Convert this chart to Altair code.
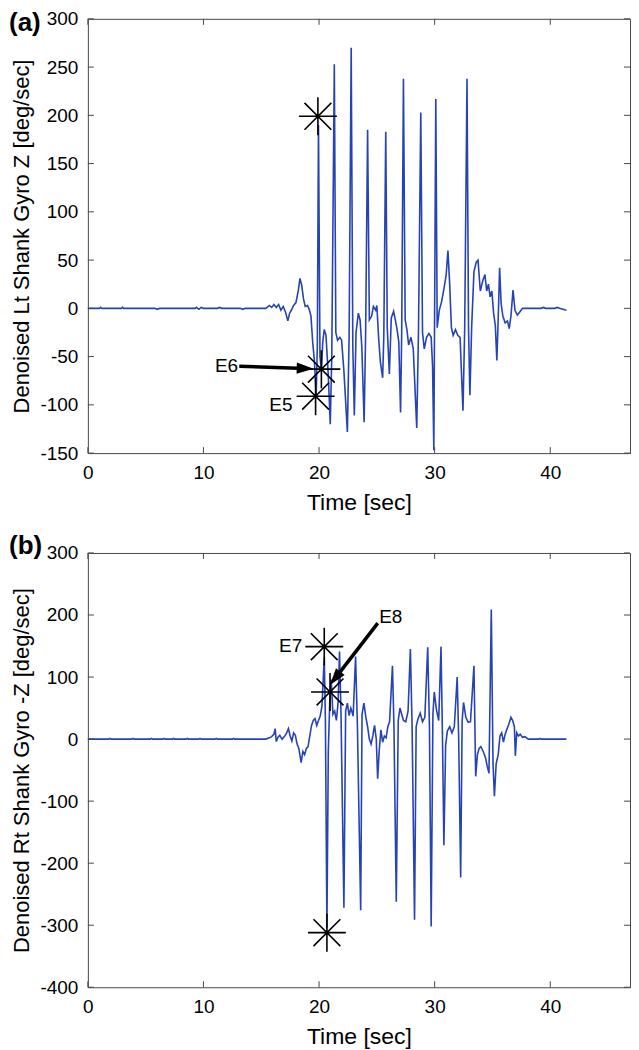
import altair as alt
import pandas as pd

FONT = "Liberation Sans"
LINE_COLOR = "#2743b3"
BOX = "#474747"

signal_a = [
    (0, 0), (1.0, 0), (1.1, 1), (1.2, 0), (2.9, 0), (3.0, 1), (3.1, 0), (5.8, 0), (6.0, -1), (6.2, 0),
    (9.3, 0), (9.4, 1), (9.6, -1), (9.8, 1), (10.0, 0), (11.2, 0), (11.4, 1), (11.6, 0), (13.2, 0),
    (13.4, -1), (13.6, 0), (15.4, 0), (15.7, 3), (15.9, 1), (16.1, 4), (16.3, 1), (16.5, 4), (16.7, -2),
    (16.9, 2), (17.1, -4), (17.3, -13), (17.45, -5), (17.6, -2), (17.8, 3), (18.0, 6), (18.2, 18),
    (18.35, 31), (18.5, 24), (18.65, 10), (18.8, 2), (19.0, 3), (19.15, -1), (19.3, -8), (19.45, -35),
    (19.6, -55), (19.75, -90), (19.85, -40), (19.95, 190), (20.08, -50), (20.2, -64), (20.32, -35),
    (20.45, -22), (20.6, -28), (20.8, -70), (20.97, -120), (21.1, -50), (21.32, 253), (21.45, -25),
    (21.6, -33), (21.8, -30), (21.95, -33), (22.15, -65), (22.45, -128), (22.6, -30), (22.78, 270),
    (22.92, -40), (23.05, -111), (23.2, -25), (23.4, -5), (23.55, -12), (23.7, -40), (23.9, -118),
    (24.03, -25), (24.2, 185), (24.35, -12), (24.55, -8), (24.7, 2), (24.9, -2), (25.0, 3), (25.15, -30),
    (25.3, -55), (25.5, -72), (25.6, -30), (25.77, 183), (25.9, -20), (26.08, -68), (26.25, -10),
    (26.45, -3), (26.6, -12), (26.75, -22), (26.9, -35), (27.05, -108), (27.15, -25), (27.3, 238),
    (27.45, -12), (27.6, -22), (27.75, -38), (27.95, -30), (28.15, -42), (28.45, -124), (28.6, -25),
    (28.8, 203), (28.95, -25), (29.1, -42), (29.3, -30), (29.5, -26), (29.7, -30), (29.82, -60),
    (29.93, -147), (30.1, 217), (30.22, -20), (30.4, -2), (30.6, 7), (30.8, 20), (31.0, 35), (31.15, 60),
    (31.3, 25), (31.45, -20), (31.6, -28), (31.8, -22), (32.0, -28), (32.2, -30), (32.45, -106),
    (32.6, -20), (32.8, 238), (32.93, -20), (33.05, -90), (33.2, -20), (33.4, 38), (33.6, 48),
    (33.75, 50), (33.95, 18), (34.15, 28), (34.35, 35), (34.5, 18), (34.65, 25), (34.8, 12), (34.95, 18),
    (35.1, -5), (35.25, -18), (35.38, -54), (35.5, -10), (35.62, 42), (35.75, 5), (35.9, -8), (36.1, -15),
    (36.3, -13), (36.45, -21), (36.6, -8), (36.78, 19), (36.95, -2), (37.15, -7), (37.35, -4), (37.6, 0),
    (38.0, 0), (39.2, 0), (39.4, 1), (39.6, 0), (40.4, 0), (40.6, 1), (40.8, 0), (41.4, -2),
]

signal_b = [
    (0, 0), (1.8, 0), (1.9, 1), (2.0, 0), (3.8, 0), (3.9, 1), (4.0, 0), (5.4, 0), (5.5, 1), (5.6, 0),
    (6.5, 0), (6.6, 1), (6.7, 0), (7.3, 0), (7.4, 1), (7.5, 0), (8.5, 0), (8.6, 1), (8.7, 0), (9.6, 0),
    (9.7, 1), (9.8, 0), (11.0, 0), (11.1, 1), (11.2, 0), (12.5, 0), (12.6, 1), (12.7, 0), (15.4, 0),
    (15.7, 2), (15.9, 4), (16.1, 8), (16.2, 17), (16.3, -4), (16.45, 3), (16.6, 6), (16.8, 0), (17.0, 4),
    (17.2, 10), (17.35, 17), (17.5, 5), (17.65, -3), (17.8, 10), (17.95, 6), (18.1, -8), (18.25, -15),
    (18.45, -38), (18.6, -20), (18.75, -25), (18.9, -15), (19.05, -12), (19.2, 5), (19.35, 22), (19.5, 30),
    (19.65, 33), (19.8, 22), (19.95, 30), (20.1, 37), (20.25, 53), (20.45, 132), (20.55, 30),
    (20.68, -305), (20.8, -20), (20.95, 76), (21.05, 96), (21.2, 40), (21.35, 45), (21.5, 30), (21.65, 60),
    (21.77, 141), (21.9, 40), (22.15, -272), (22.3, 45), (22.45, 58), (22.6, 38), (22.75, 50), (22.95, 37),
    (23.16, 133), (23.32, 20), (23.6, -276), (23.72, 40), (23.88, 58), (24.05, 35), (24.2, 20), (24.35, 0),
    (24.5, -8), (24.65, 5), (24.8, 22), (24.95, 0), (25.07, -64), (25.2, -20), (25.35, 15), (25.5, -5),
    (25.65, 5), (25.8, 2), (25.95, 20), (26.1, 28), (26.35, 118), (26.48, 20), (26.68, -262), (26.85, 30),
    (27.0, 50), (27.15, 40), (27.3, 30), (27.5, 28), (27.7, 45), (27.9, 145), (28.05, 20), (28.26, -291),
    (28.4, 20), (28.55, 32), (28.75, 42), (28.95, 28), (29.15, 35), (29.4, 148), (29.55, 20),
    (29.7, -302), (29.85, 40), (29.97, 76), (30.15, 48), (30.35, 30), (30.55, 149), (30.68, 0),
    (30.8, -171), (30.95, -10), (31.1, 13), (31.3, 20), (31.5, 10), (31.7, 20), (31.95, 100), (32.08, 0),
    (32.25, -223), (32.38, 30), (32.5, 59), (32.7, 35), (32.9, 27), (33.1, 28), (33.4, 118), (33.55, -60),
    (33.7, -25), (33.85, -15), (34.0, -12), (34.2, -20), (34.4, -30), (34.55, -44), (34.7, -55),
    (34.9, 209), (35.05, -40), (35.17, -92), (35.32, -40), (35.5, -25), (35.65, 5), (35.8, 10),
    (35.95, -5), (36.1, 8), (36.25, 16), (36.4, 23), (36.6, 35), (36.75, 30), (36.9, 20), (36.98, -27),
    (37.1, 10), (37.25, 5), (37.4, 8), (37.6, 3), (37.8, 4), (38.1, 0), (39.0, 0), (39.1, 1), (39.2, 0),
    (41.4, 0),
]

x_ticks = [0, 10, 20, 30, 40]
y_ticks_a = [-150, -100, -50, 0, 50, 100, 150, 200, 250, 300]
y_ticks_b = [-400, -300, -200, -100, 0, 100, 200, 300]

stars_a = [(19.9, 199), (20.2, -63), (19.7, -91)]
stars_b = [(20.45, 149), (20.95, 76), (20.68, -312)]

labels_a = [("E6", 13.0, -60, "right"), ("E5", 17.7, -100, "right")]
labels_b = [("E7", 18.55, 150, "right"), ("E8", 25.2, 197, "left")]

arrow_a = {"x1": 13.1, "y1": -60, "x2": 18.8, "y2": -62.2, "angle": 1.7}
arrow_b = {"x1": 25.08, "y1": 187, "x2": 21.39, "y2": 97.8, "angle": 128}

W, H = 543, 435
X_MAX = 46.9
TICK = 6
LEFT = 79
STAR = "M-1,0L1,0M0,-1L0,1M-0.7071,-0.7071L0.7071,0.7071M-0.7071,0.7071L0.7071,-0.7071"
HEAD = "M1,0L-1,-0.65L-1,0.65Z"


def panel(sig, yticks, ydom, ytitle, stars, labels, arrow, tag, tag_y):
    xs = alt.Scale(domain=[0, X_MAX], nice=False, zero=False)
    ys = alt.Scale(domain=ydom, nice=False, zero=False)
    df = pd.DataFrame(sig, columns=["t", "v"])
    common = dict(ticks=False, domain=False, grid=False, labelFontSize=19,
                  labelPadding=10, titleFontWeight="normal",
                  labelFont=FONT, titleFont=FONT, labelColor="black",
                  titleColor="black", labelExpr="replace(datum.label, '\u2212', '-')")
    line = alt.Chart(df).mark_line(color=LINE_COLOR, strokeWidth=1.6).encode(
        x=alt.X("t:Q", scale=xs, title="Time [sec]",
                axis=alt.Axis(values=x_ticks, labelFlush=False, titlePadding=9,
                              titleFontSize=23, **common)),
        y=alt.Y("v:Q", scale=ys, title=ytitle,
                axis=alt.Axis(values=yticks, titleX=-(LEFT - 3), titleY=H / 2, titleAngle=270,
                              titleBaseline="top", titleAlign="center", titleFontSize=22,
                              **common)),
    )
    sdf = pd.DataFrame(stars, columns=["t", "v"])
    star = alt.Chart(sdf).mark_point(shape=STAR, size=1444, filled=False, color="black",
                                     strokeWidth=1.6, opacity=1).encode(x="t:Q", y="v:Q")
    adf = pd.DataFrame([arrow])
    shaft = alt.Chart(adf).mark_rule(color="black", strokeWidth=3.5).encode(
        x="x1:Q", y="y1:Q", x2="x2:Q", y2="y2:Q")
    head = alt.Chart(adf).mark_point(shape=HEAD, size=289, filled=True, color="black",
                                     opacity=1, angle=arrow["angle"]).encode(x="x2:Q", y="y2:Q")
    layers = [line, star, shaft, head]
    for txt, tx, ty, al in labels:
        ldf = pd.DataFrame({"t": [tx], "v": [ty], "txt": [txt]})
        layers.append(alt.Chart(ldf).mark_text(font=FONT, fontSize=19, align=al,
                                               baseline="middle", color="black").encode(
            x="t:Q", y="v:Q", text="txt:N"))
    txdf = pd.DataFrame({"t": x_ticks})
    tydf = pd.DataFrame({"v": yticks})
    rk = dict(color=BOX, strokeWidth=1)
    layers += [
        alt.Chart(txdf).mark_rule(**rk).encode(x="t:Q", y=alt.value(0), y2=alt.value(TICK)),
        alt.Chart(txdf).mark_rule(**rk).encode(x="t:Q", y=alt.value(H), y2=alt.value(H - TICK)),
        alt.Chart(tydf).mark_rule(**rk).encode(y="v:Q", x=alt.value(0), x2=alt.value(TICK)),
        alt.Chart(tydf).mark_rule(**rk).encode(y="v:Q", x=alt.value(W), x2=alt.value(W - TICK)),
    ]
    tdf = pd.DataFrame({"tag": [tag]})
    layers.append(alt.Chart(tdf).mark_text(font=FONT, fontSize=26, fontWeight="bold",
                                           align="left", baseline="top", color="black").encode(
        x=alt.value(-LEFT), y=alt.value(tag_y), text="tag:N"))
    return alt.layer(*layers).properties(width=W, height=H)


pa = panel(signal_a, y_ticks_a, [-150, 300], "Denoised Lt Shank Gyro Z [deg/sec]",
           stars_a, labels_a, arrow_a, "(a)", -9)
pb = panel(signal_b, y_ticks_b, [-400, 300], "Denoised Rt Shank Gyro -Z [deg/sec]",
           stars_b, labels_b, arrow_b, "(b)", -20)

chart = alt.vconcat(pa, pb, spacing=17, padding=0, background="white").configure_view(
    stroke=BOX, strokeWidth=1)

chart.save("out.html", embed_options={"renderer": "svg", "actions": False})
